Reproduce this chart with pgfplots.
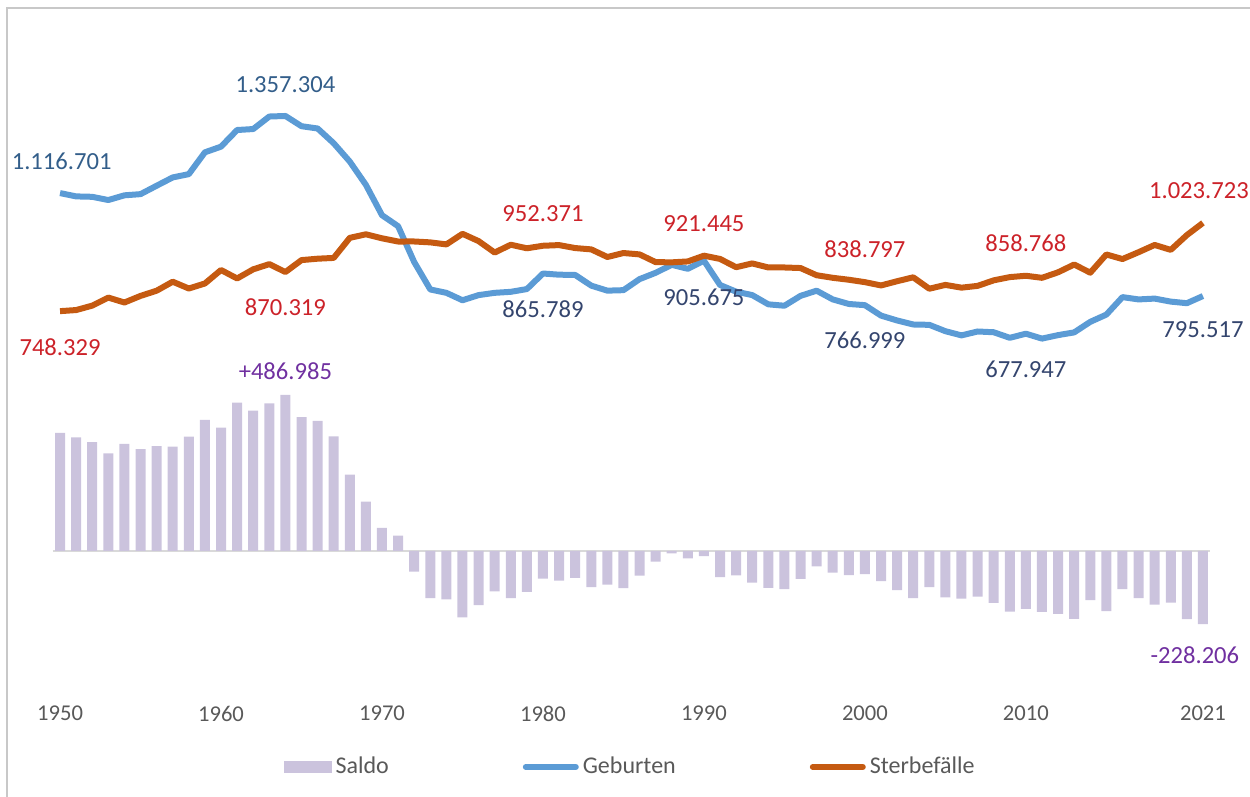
\documentclass[border=0pt]{standalone}
\usepackage{fontspec}
\setmainfont{Carlito}
\usepackage{pgfplots}
\usepackage{pgfplotstable}
\pgfplotsset{compat=1.18}
\definecolor{cblue}{HTML}{5B9BD5}
\definecolor{corange}{HTML}{C55A11}
\definecolor{cbar}{HTML}{CBC3DD}
\definecolor{lblue}{HTML}{335E8A}
\definecolor{ldark}{HTML}{34456E}
\definecolor{lred}{HTML}{CC2229}
\definecolor{lpurple}{HTML}{7030A0}
\definecolor{tgray}{HTML}{595959}
\definecolor{fgray}{HTML}{C8C8C8}
\definecolor{zgray}{HTML}{D9D9D9}

\pgfplotstableread{
year births deaths saldo
1950 1116701 748329 368372
1951 1106380 751767 354613
1952 1105084 765573 339511
1953 1095029 790654 304375
1954 1109743 775291 334452
1955 1113408 795938 317470
1956 1139672 812111 327561
1957 1165555 840195 325360
1958 1175870 818965 356905
1959 1243922 834688 409234
1960 1261614 876721 384893
1961 1313505 850300 463205
1962 1316534 878814 437720
1963 1355595 895070 460525
1964 1357304 870319 486985
1965 1325386 907631 417755
1966 1318303 911984 406319
1967 1272276 914417 357859
1968 1214968 977042 237926
1969 1142366 988092 154274
1970 1047737 975664 72073
1971 1013396 965623 47773
1972 901657 965689 -64032
1973 815969 962924 -146955
1974 805500 956573 -151073
1975 782310 989649 -207339
1976 798334 966873 -168539
1977 805496 931155 -125659
1978 808619 955551 -146932
1979 817217 944474 -127257
1980 865789 952371 -86582
1981 862100 954436 -92336
1982 861275 945195 -83920
1983 827933 941042 -113109
1984 812292 917299 -105007
1985 813803 929649 -115846
1986 848232 925426 -77194
1987 867969 901291 -33322
1988 892993 900627 -7634
1989 880459 903441 -22982
1990 905675 921445 -15770
1991 830019 911245 -81226
1992 809114 885443 -76329
1993 798447 897270 -98823
1994 769603 884661 -115058
1995 765221 884588 -119367
1996 796013 882843 -86830
1997 812173 860389 -48216
1998 785034 852382 -67348
1999 770744 846330 -75586
2000 766999 838797 -71798
2001 734475 828541 -94066
2002 719250 841686 -122436
2003 706721 853946 -147225
2004 705622 818271 -112649
2005 685795 830227 -144432
2006 672724 821627 -148903
2007 684862 827155 -142293
2008 682514 844439 -161925
2009 665126 854544 -189418
2010 677947 858768 -180821
2011 662685 852328 -189643
2012 673544 869582 -196038
2013 682069 893825 -211756
2014 714927 868356 -153429
2015 737575 925200 -187625
2016 792141 910899 -118758
2017 784901 932263 -147362
2018 787523 954874 -167351
2019 778090 939520 -161430
2020 773144 985572 -212428
2021 795517 1023723 -228206
}\datatable

\begin{document}
\begin{tikzpicture}
\useasboundingbox (0,0) rectangle (625pt,398.5pt);
\draw[fgray, line width=1pt] (3.5pt,0) -- (3.5pt,394.5pt) -- (625pt,394.5pt);
\begin{axis}[
  at={(26pt,58.9pt)}, anchor=south west,
  scale only axis, width=579.5pt, height=320.5pt,
  xmin=1949.5, xmax=2021.5, ymin=-400000, ymax=1600000,
  clip=false,
  axis line style={draw=none},
  ytick=\empty,
  xtick={1950,1960,1970,1980,1990,2000,2010,2021},
  xticklabels={1950,1960,1970,1980,1990,2000,2010,2021},
  major tick length=0pt,
  xticklabel style={font=\fontsize{11.3}{13}\selectfont, text=tgray, yshift=-10pt},
  /pgf/number format/assume math mode=true,
  legend columns=3,
  legend style={at={(rel axis cs:0.4996,-0.137)}, anchor=center, draw=none, fill=none,
    font=\fontsize{12}{14}\selectfont, text=tgray,
    /tikz/every even column/.append style={column sep=65pt},
    /tikz/every odd column/.append style={column sep=0pt}},
]
\addplot[zgray, line width=1pt, forget plot] coordinates {(1949.55,0) (2021.45,0)};
\addplot[ybar, bar width=5pt, fill=cbar, draw=none,
  legend image code/.code={\fill[cbar] (0pt,-3pt) rectangle (24pt,3pt);}]
  table[x=year, y=saldo] {\datatable};
\addlegendentry{Saldo}
\addplot[cblue, line width=3pt, line join=round, mark=none,
  legend image code/.code={\draw[cblue, line width=3pt, line cap=round] (1.5pt,0pt) -- (26.5pt,0pt);}]
  table[x=year, y=births] {\datatable};
\addlegendentry{Geburten}
\addplot[corange, line width=3pt, line join=round, mark=none,
  legend image code/.code={\draw[corange, line width=3pt, line cap=round] (1.5pt,0pt) -- (26.5pt,0pt);}]
  table[x=year, y=deaths] {\datatable};
\addlegendentry{Sterbefälle}

\begin{scope}[every node/.style={font=\fontsize{12.3}{14}\selectfont, inner sep=0pt, anchor=center}]
\node[text=lblue] at (axis cs:1950.1,1216800) {1.116.701};
\node[text=lblue] at (axis cs:1964,1453900) {1.357.304};
\node[text=lred] at (axis cs:1950,636500) {748.329};
\node[text=lred] at (axis cs:1964,761300) {870.319};
\node[text=lred] at (axis cs:1980,1051400) {952.371};
\node[text=ldark] at (axis cs:1980,755000) {865.789};
\node[text=lred] at (axis cs:1990,1020200) {921.445};
\node[text=ldark] at (axis cs:1990,792500) {905.675};
\node[text=lred] at (axis cs:2000,942200) {838.797};
\node[text=ldark] at (axis cs:2000,658300) {766.999};
\node[text=lred] at (axis cs:2010,961000) {858.768};
\node[text=ldark] at (axis cs:2010,567800) {677.947};
\node[text=lred] at (axis cs:2020.75,1123200) {1.023.723};
\node[text=ldark] at (axis cs:2021,689500) {795.517};
\node[text=lpurple] at (axis cs:1964,561600) {+486.985};
\node[text=lpurple] at (axis cs:2020.5,-324500) {-228.206};
\end{scope}
\end{axis}
\end{tikzpicture}
\end{document}
